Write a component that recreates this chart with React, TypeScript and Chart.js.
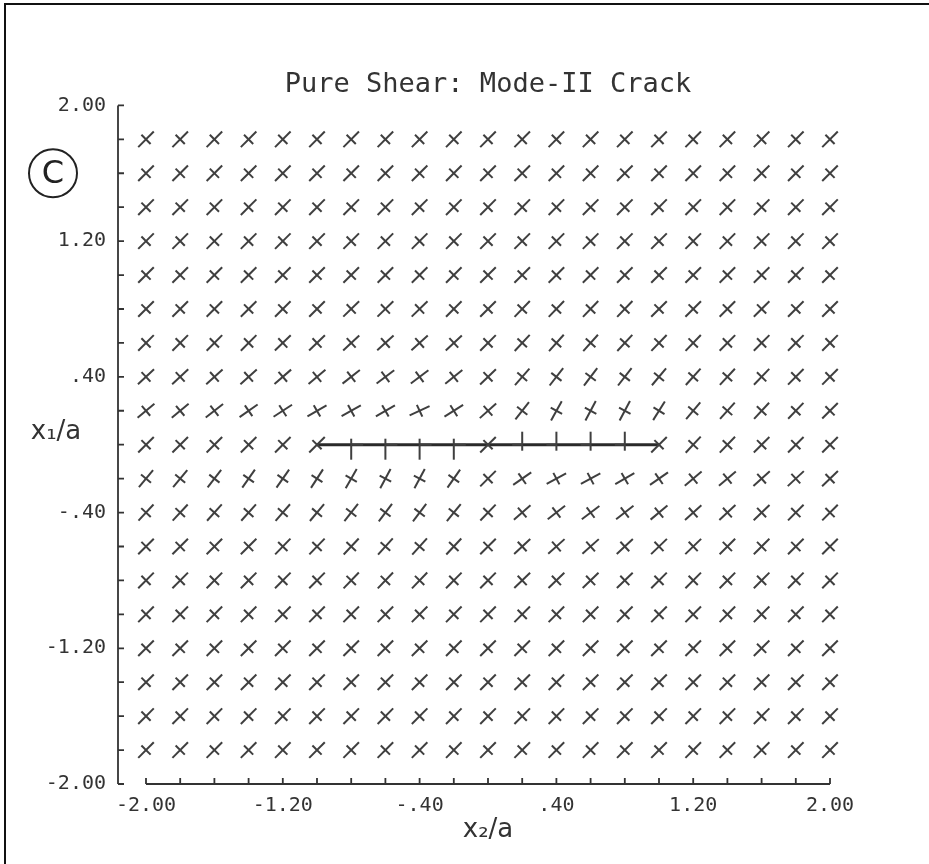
import React, { useEffect, useRef } from 'react';
import { Chart, registerables } from 'chart.js';

Chart.register(...registerables);

const TITLE = 'Pure Shear: Mode-II Crack';
const X_TITLE = 'x₂/a';
const Y_TITLE = 'x₁/a';
const PANEL = 'C';

// grid of evaluation points
const xValues = [-2.0, -1.8, -1.6, -1.4, -1.2, -1.0, -0.8, -0.6, -0.4, -0.2, 0.0, 0.2, 0.4, 0.6, 0.8, 1.0, 1.2, 1.4, 1.6, 1.8, 2.0];
const yValues = [1.8, 1.6, 1.4, 1.2, 1.0, 0.8, 0.6, 0.4, 0.2, 0.0, -0.2, -0.4, -0.6, -0.8, -1.0, -1.2, -1.4, -1.6, -1.8];

// labelled tick values (ticks every 0.2)
const labelledTicks = [-2.0, -1.2, -0.4, 0.4, 1.2, 2.0];

// crack faces
const crackX = [-1.0, 1.0];
const crackY = [0.0, 0.0];

// angle (deg, counter-clockwise from x2 axis) of the major principal direction, one row per yValue
const angles: number[][] = [
  [45, 45, 45, 45, 45, 45, 45, 45, 45, 45, 45, 45, 45, 45, 45, 45, 45, 45, 45, 45, 45], // 1.8
  [45, 45, 45, 45, 45, 45, 45, 45, 45, 45, 45, 45, 45, 45, 45, 45, 45, 45, 45, 45, 45], // 1.6
  [45, 45, 45, 45, 45, 45, 45, 45, 45, 45, 45, 45, 45, 45, 45, 45, 45, 45, 45, 45, 45], // 1.4
  [45, 45, 45, 45, 45, 45, 45, 45, 45, 45, 45, 45, 45, 45, 45, 45, 45, 45, 45, 45, 45], // 1.2
  [45, 45, 45, 45, 45, 45, 45, 45, 45, 45, 45, 45, 45, 45, 45, 45, 45, 45, 45, 45, 45], // 1.0
  [45, 45, 45, 45, 45, 45, 44, 44, 44, 45, 45, 46, 46, 46, 46, 45, 45, 45, 45, 45, 45], // 0.8
  [45, 45, 45, 45, 44, 44, 43, 42, 42, 43, 45, 47, 48, 48, 47, 46, 46, 45, 45, 45, 45], // 0.6
  [43, 43, 42, 42, 41, 40, 38, 37, 37, 39, 44, 49, 52, 53, 52, 50, 48, 47, 46, 45, 45], // 0.4
  [40, 40, 38, 35, 33, 30, 29, 30, 25, 32, 42, 52, 61, 62, 62, 58, 50, 48, 47, 46, 45], // 0.2
  [45, 45, 45, 45, 45, 45, 90, 90, 90, 90, 45, 90, 90, 90, 90, 45, 47, 46, 45, 45, 45], // 0.0
  [50, 50, 52, 55, 55, 57, 60, 62, 62, 55, 45, 35, 28, 28, 30, 35, 40, 40, 42, 43, 44], // -0.2
  [47, 47, 48, 48, 49, 50, 52, 53, 53, 51, 46, 41, 38, 37, 38, 40, 42, 43, 44, 45, 45], // -0.4
  [45, 45, 45, 45, 46, 46, 47, 48, 48, 47, 45, 43, 42, 42, 43, 44, 44, 45, 45, 45, 45], // -0.6
  [45, 45, 45, 45, 45, 45, 46, 46, 46, 45, 45, 44, 44, 44, 44, 45, 45, 45, 45, 45, 45], // -0.8
  [45, 45, 45, 45, 45, 45, 45, 45, 45, 45, 45, 45, 45, 45, 45, 45, 45, 45, 45, 45, 45], // -1.0
  [45, 45, 45, 45, 45, 45, 45, 45, 45, 45, 45, 45, 45, 45, 45, 45, 45, 45, 45, 45, 45], // -1.2
  [45, 45, 45, 45, 45, 45, 45, 45, 45, 45, 45, 45, 45, 45, 45, 45, 45, 45, 45, 45, 45], // -1.4
  [45, 45, 45, 45, 45, 45, 45, 45, 45, 45, 45, 45, 45, 45, 45, 45, 45, 45, 45, 45, 45], // -1.6
  [45, 45, 45, 45, 45, 45, 45, 45, 45, 45, 45, 45, 45, 45, 45, 45, 45, 45, 45, 45, 45], // -1.8
];

const INK = '#333333';
const MARK = '#3f3f3f';

function fmtTick(v: number): string {
  if (!labelledTicks.some((t) => Math.abs(t - v) < 1e-6)) return '';
  let s = Math.abs(v).toFixed(2);
  if (s.startsWith('0')) s = s.slice(1);
  return (v < -1e-9 ? '-' : '') + s;
}

const decorPlugin = {
  id: 'decor',
  beforeDraw(chart: any) {
    const { ctx, width, height } = chart;
    ctx.save();
    ctx.fillStyle = '#ffffff';
    ctx.fillRect(0, 0, width, height);
    ctx.restore();
  },
  afterDraw(chart: any) {
    const { ctx, chartArea } = chart;
    const xs = chart.scales.x;
    const ys = chart.scales.y;
    ctx.save();
    // page frame
    ctx.strokeStyle = '#111';
    ctx.lineWidth = 2;
    ctx.beginPath();
    ctx.moveTo(5, chart.height);
    ctx.lineTo(5, 4);
    ctx.lineTo(chart.width, 4);
    ctx.stroke();

    // axes
    ctx.strokeStyle = INK;
    ctx.lineWidth = 1.8;
    ctx.beginPath();
    const axisX = chartArea.left - 28;
    const yTop = ys.getPixelForValue(2);
    const yBot = ys.getPixelForValue(-2);
    ctx.moveTo(axisX, yTop);
    ctx.lineTo(axisX, yBot);
    ys.ticks.forEach((t: any) => {
      const py = ys.getPixelForValue(t.value);
      ctx.moveTo(axisX, py);
      ctx.lineTo(axisX + 6, py);
    });
    const xl = xs.getPixelForValue(-2);
    const xr = xs.getPixelForValue(2);
    ctx.moveTo(xl, yBot);
    ctx.lineTo(xr, yBot);
    xs.ticks.forEach((t: any) => {
      const px = xs.getPixelForValue(t.value);
      ctx.moveTo(px, yBot);
      ctx.lineTo(px, yBot - 6);
    });
    ctx.stroke();

    // y-axis title (horizontal)
    ctx.fillStyle = INK;
    ctx.font = '26px "DejaVu Sans"';
    ctx.textAlign = 'center';
    ctx.textBaseline = 'middle';
    ctx.fillText(Y_TITLE, chartArea.left - 90, ys.getPixelForValue(0) - 12);

    // panel label
    const cx = chartArea.left - 93;
    const cy = ys.getPixelForValue(1.6);
    ctx.lineWidth = 2;
    ctx.strokeStyle = '#222';
    ctx.beginPath();
    ctx.arc(cx, cy, 24, 0, Math.PI * 2);
    ctx.stroke();
    ctx.fillStyle = '#222';
    ctx.font = '32px "DejaVu Sans"';
    ctx.fillText(PANEL, cx, cy + 1);
    ctx.restore();
  },
};

export default function App() {
  const ref = useRef<HTMLCanvasElement | null>(null);

  useEffect(() => {
    if (!ref.current) return;
    const points: { x: number; y: number }[] = [];
    const majorRot: number[] = [];
    const minorRot: number[] = [];
    const majorStyle: string[] = [];
    const minorStyle: string[] = [];
    const majorRad: number[] = [];
    const minorRad: number[] = [];
    const stubPts: { x: number; y: number }[] = [];
    const stubRot: number[] = [];
    yValues.forEach((y, i) => {
      xValues.forEach((x, j) => {
        points.push({ x, y });
        const a = angles[i][j];
        const onFace = y === 0 && a === 90;
        if (onFace) {
          // crack-face marks: vertical bar on one side, short stub along the face
          const left = x < 0;
          majorStyle.push('dash');
          majorRot.push(left ? 90 : -90);
          majorRad.push(left ? 15 : 13);
          minorStyle.push('dash');
          minorRot.push(left ? 0 : 180);
          minorRad.push(left ? 12 : 10);
          stubPts.push({ x, y });
          stubRot.push(left ? -90 : 90);
        } else {
          majorStyle.push('line');
          majorRot.push(-a);
          majorRad.push(11);
          minorStyle.push('line');
          minorRot.push(-a - 90);
          minorRad.push(6.5);
        }
      });
    });
    const crack = crackX.map((x, i) => ({ x, y: crackY[i] }));

    const tickFont = { family: '"DejaVu Sans Mono"', size: 20, weight: 'normal' as const };

    const chart = new Chart(ref.current, {
      type: 'scatter',
      data: {
        datasets: [
          {
            label: 'major',
            data: points,
            pointStyle: majorStyle,
            pointRadius: majorRad,
            pointHoverRadius: majorRad,
            pointRotation: majorRot,
            pointBorderColor: MARK,
            pointBorderWidth: 2,
            clip: false,
          } as any,
          {
            label: 'minor',
            data: points,
            pointStyle: minorStyle,
            pointRadius: minorRad,
            pointHoverRadius: minorRad,
            pointRotation: minorRot,
            pointBorderColor: MARK,
            pointBorderWidth: 2,
            clip: false,
          } as any,
          {
            label: 'face stub',
            data: stubPts,
            pointStyle: 'dash',
            pointRadius: 6,
            pointHoverRadius: 6,
            pointRotation: stubRot,
            pointBorderColor: MARK,
            pointBorderWidth: 2,
            clip: false,
          } as any,
          {
            type: 'line',
            label: 'crack',
            data: crack,
            borderColor: '#2a2a2a',
            borderWidth: 3,
            pointRadius: 0,
            clip: false,
          } as any,
        ],
      },
      options: {
        responsive: false,
        animation: false,
        events: [],
        layout: { padding: { left: 0, right: 99, top: 0, bottom: 0 } },
        plugins: {
          legend: { display: false },
          tooltip: { enabled: false },
          title: {
            display: true,
            text: TITLE,
            fullSize: false,
            color: INK,
            font: { family: '"DejaVu Sans Mono"', size: 27, weight: 'normal' },
            padding: { top: 69, bottom: 4 },
          },
        },
        scales: {
          x: {
            type: 'linear',
            min: -2,
            max: 2,
            grid: { display: false, drawTicks: false },
            border: { display: false },
            ticks: {
              stepSize: 0.2,
              autoSkip: false,
              maxRotation: 0,
              minRotation: 0,
              padding: 10,
              color: INK,
              font: tickFont,
              callback: (v: any) => fmtTick(Number(v)),
            },
            title: {
              display: true,
              text: X_TITLE,
              color: INK,
              font: { family: '"DejaVu Sans"', size: 26, weight: 'normal' },
              padding: { top: 4, bottom: 18 },
            },
            afterFit: (s: any) => {
              s.height = 80;
            },
          },
          y: {
            type: 'linear',
            min: -2,
            max: 2,
            grid: { display: false, drawTicks: false },
            border: { display: false },
            ticks: {
              stepSize: 0.2,
              autoSkip: false,
              padding: 40,
              color: INK,
              font: tickFont,
              callback: (v: any) => fmtTick(Number(v)),
            },
            afterFit: (s: any) => {
              s.width = 146;
            },
          },
        },
      } as any,
      plugins: [decorPlugin],
    });
    return () => chart.destroy();
  }, []);

  return (
    <div style={{ position: 'absolute', left: 0, top: 0, width: 929, height: 864, background: '#fff' }}>
      <canvas ref={ref} width={929} height={864} style={{ display: 'block' }} />
    </div>
  );
}
